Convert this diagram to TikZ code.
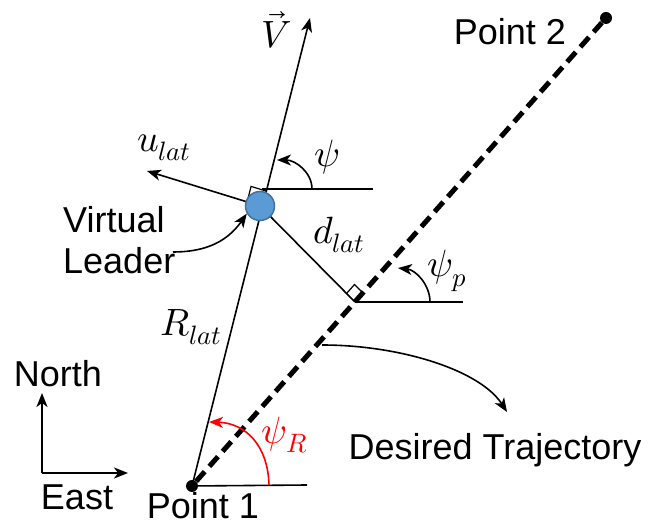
\documentclass[tikz,border=0pt]{standalone}
\usepackage{fontspec}
\usepackage{unicode-math}
\setmainfont{Liberation Sans}
\setmathfont{Latin Modern Math}
\usetikzlibrary{arrows.meta,calc}
\definecolor{leaderblue}{HTML}{5B9BD5}
\definecolor{leaderedge}{HTML}{41719C}
\definecolor{psired}{RGB}{255,0,0}
\tikzset{
  thinline/.style={line width=1.6pt, black},
  trajline/.style={line width=5pt, dash pattern=on 13pt off 7pt},
  arrowtip/.style={-{Stealth[length=14pt,width=11pt,inset=4pt]}},
  dot/.style={circle, fill=black, inner sep=0pt, minimum size=12pt},
  txt/.style={font=\fontsize{36}{41}\selectfont, inner sep=0pt},
  mth/.style={font=\fontsize{38}{42}\selectfont, inner sep=0pt},
}
\begin{document}
\begin{tikzpicture}[x=1pt,y=-1pt]
\useasboundingbox (0,0) rectangle (657,526);
% points
\node[dot] (p1) at (192,486) {};
\node[dot] (p2) at (606,18) {};
\coordinate (vtip) at (310,18);
\coordinate (Lc) at (260,206);
\coordinate (F) at (355,302);
\coordinate (X) at ($(p1)!(Lc)!(vtip)$);
\coordinate (utip) at (147,171);
% trajectory
\draw[trajline] (p1) -- (p2);
% velocity line
\draw[thinline, arrowtip] (p1.center) -- (vtip);
% u_lat
\draw[thinline, arrowtip] (X) -- (utip);
\coordinate (m3) at ($(X)!16pt!(utip)$);
\coordinate (m4) at ($(X)!16pt!(vtip)$);
\draw[line width=1.2pt] (m3) -- ($(m3)+(m4)-(X)$) -- (m4);
% heading reference at leader
\coordinate (h1s) at (262,189);
\coordinate (h1e) at (373,189);
\draw[thinline] (h1s) -- (h1e);
\coordinate (psis) at (312,189);
\coordinate (psie) at (277,160);
\draw[thinline, arrowtip] (psis) .. controls (312,172) and (295,160) .. (psie);
% d_lat
\draw[thinline] (Lc) -- (F);
\coordinate (m1) at ($(F)!12pt!(Lc)$);
\coordinate (m2) at ($(F)!12pt!(p2)$);
\draw[line width=1.2pt] (m1) -- ($(m1)+(m2)-(F)$) -- (m2);
\coordinate (h2e) at (463,302);
\draw[thinline] (F) -- (h2e);
\coordinate (psips) at (430,302);
\coordinate (psipe) at (398,268);
\draw[thinline, arrowtip] (psips) .. controls (430,285) and (416,270) .. (psipe);
% point 1 reference
\coordinate (h3e) at (307,485);
\draw[thinline] (p1.center) -- (h3e);
\coordinate (psiRs) at (269,485);
\coordinate (psiRe) at (209,422);
\draw[line width=1.6pt, psired, arrowtip] (psiRs) .. controls (268,445) and (245,423) .. (psiRe);
% leader
\node[circle, fill=leaderblue, draw=leaderedge, line width=1.5pt, minimum size=29pt, inner sep=0pt] (L) at (Lc) {};
% labels
\node[mth] (lV) at (277,30) {$\vec{V}$};
\node[mth] (lpsi) at (327,157) {$\psi$};
\node[mth] (lu) at (164,148) {$u_{lat}$};
\node[mth] (ld) at (339,235) {$d_{lat}$};
\node[mth] (lpsip) at (447,271) {$\psi_{p}$};
\node[mth] (lR) at (191,327) {$R_{lat}$};
\node[mth, text=psired] (lpsiR) at (285,435) {$\psi_{R}$};
\node[txt, align=left, anchor=west] (lvl) at (63,240) {Virtual\\Leader};
\coordinate (vla) at (173,252);
\draw[thinline, arrowtip] (vla) .. controls (200,252) and (225,245) .. (L.210);
\node[txt, anchor=base] (lp1) at (203,519) {Point 1};
\node[txt] (lp2) at (510,32) {Point 2};
\node[txt] (ldt) at (495,450) {Desired Trajectory};
\coordinate (dts) at (322,345);
\coordinate (dte) at (507,412);
\draw[thinline, arrowtip] (dts) .. controls (400,345) and (480,370) .. (dte);
% compass
\coordinate (co) at (42,473);
\coordinate (cn) at (42,393);
\coordinate (ce) at (128,473);
\draw[line width=2pt, arrowtip] (co) -- (cn);
\draw[line width=2pt, arrowtip] (co) -- (ce);
\node[txt] (lN) at (58,374) {North};
\node[txt] (lE) at (77,497) {East};
\end{tikzpicture}
\end{document}
